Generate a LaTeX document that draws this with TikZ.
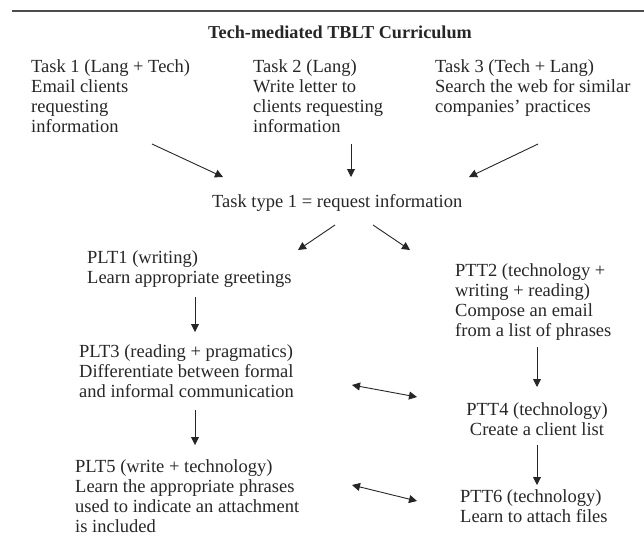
\documentclass[tikz,border=0pt]{standalone}
\usepackage{fontspec}
\setmainfont{Liberation Serif}
\usetikzlibrary{arrows.meta}
\begin{document}
\begin{tikzpicture}[x=1pt,y=-1pt,
  txt/.style={font=\fontsize{18.5}{20}\selectfont, align=left, inner sep=0pt, anchor=north west, text=black!85},
  ctxt/.style={txt, align=center, anchor=north},
  ttl/.style={font=\fontsize{18.2}{20}\selectfont\bfseries, inner sep=0pt, anchor=north west, text=black!85},
  arr/.style={draw=black!85, line width=0.9pt, -{Triangle[length=8pt,width=8pt]}},
  darr/.style={draw=black!85, line width=0.9pt, {Triangle[length=8pt,width=8pt]}-{Triangle[length=8pt,width=8pt]}}
]
\useasboundingbox (0,0) rectangle (644,550);
\coordinate (rl) at (12,11);
\coordinate (rr) at (644,11);
\draw[black!70, line width=1.2pt] (rl) -- (rr);

\node[ttl] (title) at (208,24) {\strut Tech-mediated TBLT Curriculum};

\node[txt] (t1) at (31,58) {\strut Task 1 (Lang + Tech)\\Email clients\\requesting\\information};
\node[txt] (t2) at (253,58) {\strut Task 2 (Lang)\\Write letter to\\clients requesting\\information};
\node[txt] (t3) at (435,58) {\strut Task 3 (Tech + Lang)\\Search the web for similar\\companies’ practices};

\node[txt] (tt) at (212,193) {\strut Task type 1 = request information};

\node[txt] (plt1) at (87,249) {\strut PLT1 (writing)\\Learn appropriate greetings};
\node[txt] (ptt2) at (455,262) {\strut PTT2 (technology +\\writing + reading)\\Compose an email\\from a list of phrases};
\node[txt] (plt3) at (79,343) {\strut PLT3 (reading + pragmatics)\\Differentiate between formal\\and informal communication};
\node[ctxt] (ptt4) at (537,401) {\strut PTT4 (technology)\\Create a client list};
\node[txt] (plt5) at (75,458) {\strut PLT5 (write + technology)\\Learn the appropriate phrases\\used to indicate an attachment\\is included};
\node[txt] (ptt6) at (460,488) {\strut PTT6 (technology)\\Learn to attach files};

% connector end points
\coordinate (a1s) at (152,144); \coordinate (a1e) at (223,177);
\coordinate (a2s) at (351,144); \coordinate (a2e) at (351,177);
\coordinate (a3s) at (538,144); \coordinate (a3e) at (469,177);
\coordinate (b1s) at (335,225); \coordinate (b1e) at (298,250);
\coordinate (b2s) at (373,225); \coordinate (b2e) at (410,250);
\coordinate (c1s) at (195,297); \coordinate (c1e) at (195,332);
\coordinate (c2s) at (195,410); \coordinate (c2e) at (195,445);
\coordinate (d1s) at (537,347); \coordinate (d1e) at (537,387);
\coordinate (d2s) at (537,445); \coordinate (d2e) at (537,485);
\coordinate (e1s) at (352,385); \coordinate (e1e) at (417,397);
\coordinate (e2s) at (352,485); \coordinate (e2e) at (417,501);

\draw[arr] (a1s) -- (a1e);
\draw[arr] (a2s) -- (a2e);
\draw[arr] (a3s) -- (a3e);
\draw[arr] (b1s) -- (b1e);
\draw[arr] (b2s) -- (b2e);
\draw[arr] (c1s) -- (c1e);
\draw[arr] (c2s) -- (c2e);
\draw[arr] (d1s) -- (d1e);
\draw[arr] (d2s) -- (d2e);
\draw[darr] (e1s) -- (e1e);
\draw[darr] (e2s) -- (e2e);
\end{tikzpicture}
\end{document}
